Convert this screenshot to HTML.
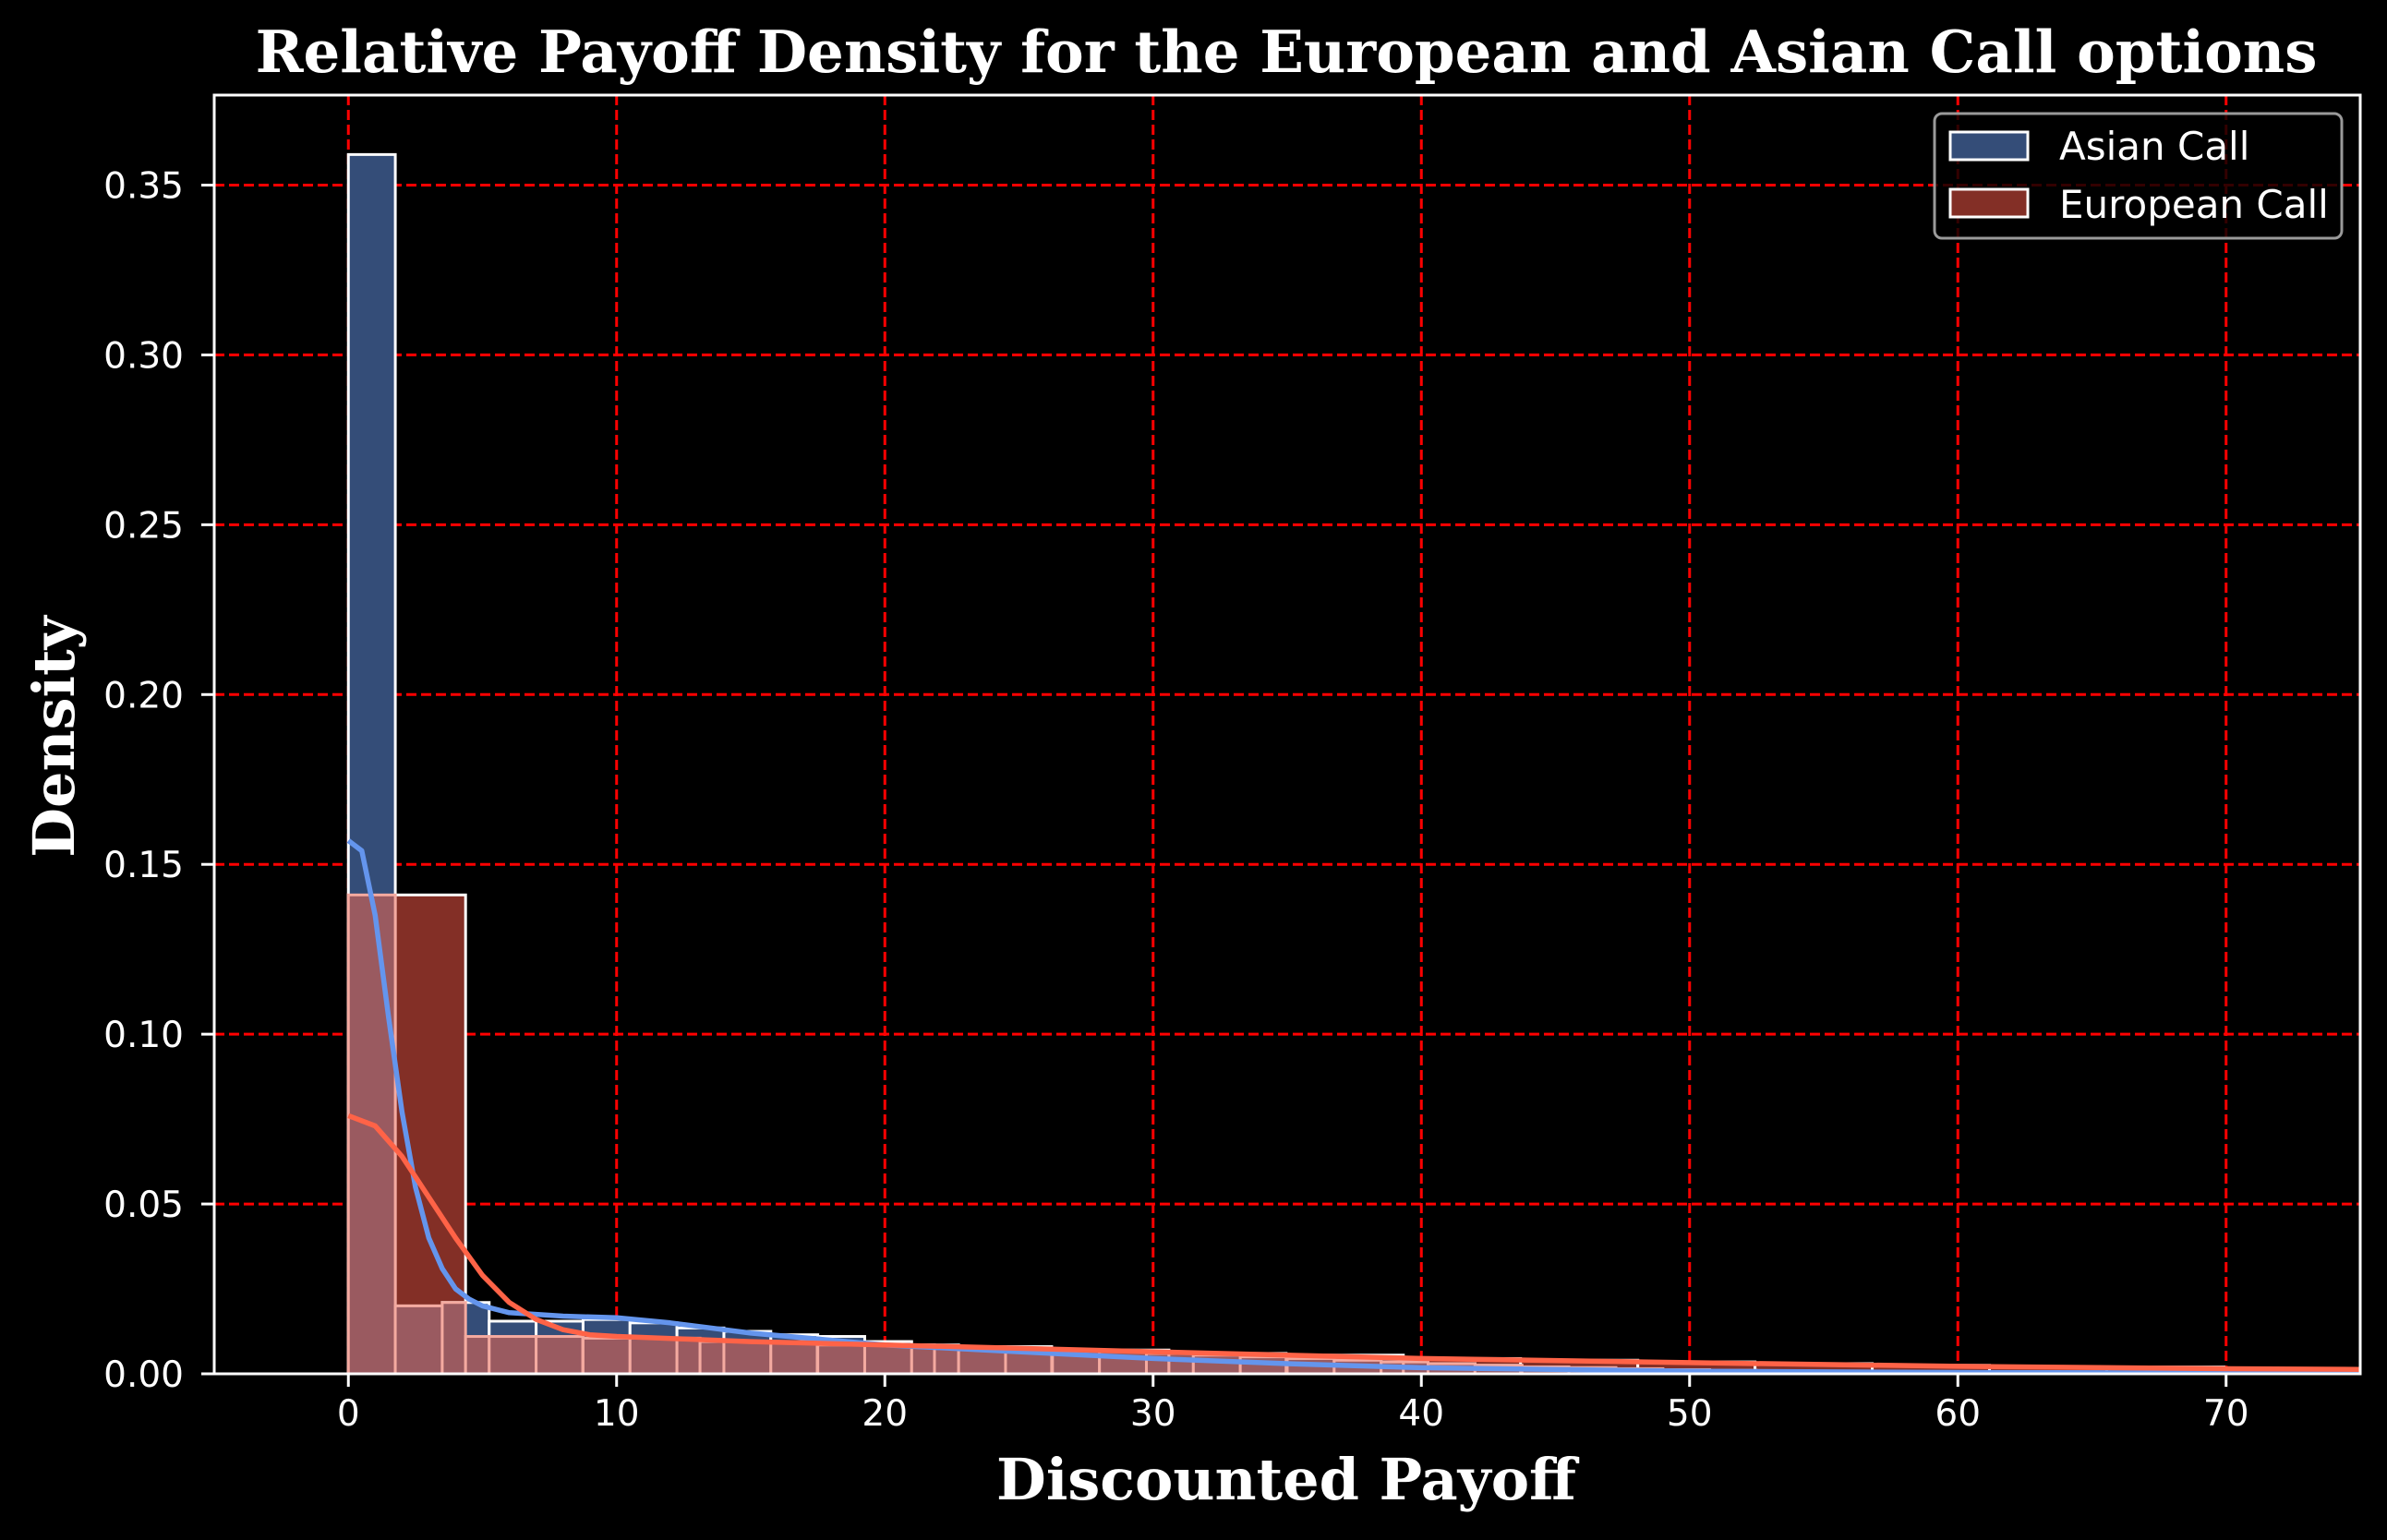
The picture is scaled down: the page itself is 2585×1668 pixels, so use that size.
<!DOCTYPE html>
<html><head><meta charset="utf-8"><style>
html,body{margin:0;padding:0;background:#000;}
svg{display:block;}
text{fill:#fff;}
</style></head><body>
<svg id="chart" width="2585" height="1668" viewBox="0 0 2585 1668" xmlns="http://www.w3.org/2000/svg">
<defs><clipPath id="plotclip"><rect x="232" y="103" width="2324" height="1385"/></clipPath></defs>
<rect width="2585" height="1668" fill="#000"/>
<text x="1393" y="78" text-anchor="middle" font-family="'DejaVu Serif','Liberation Serif',serif" font-weight="bold" font-size="62.5">Relative Payoff Density for the European and Asian Call options</text>
<text x="1393" y="1624" text-anchor="middle" font-family="'DejaVu Serif','Liberation Serif',serif" font-weight="bold" font-size="62">Discounted Payoff</text>
<text transform="translate(80,798) rotate(-90)" text-anchor="middle" font-family="'DejaVu Serif','Liberation Serif',serif" font-weight="bold" font-size="62">Density</text>
<g id="plot"></g>
</svg>
<script>
const xTicks = [0,10,20,30,40,50,60,70];
const yTicks = [0,0.05,0.10,0.15,0.20,0.25,0.30,0.35];
const yTickLabels = ["0.00","0.05","0.10","0.15","0.20","0.25","0.30","0.35"];
const asianBinWidth = 1.75;
const asianHeights = [0.359,0.020,0.021,0.0155,0.0155,0.016,0.015,0.0135,0.0125,0.0115,0.011,0.0095,0.0085,0.008,0.0075,0.007,0.0065,0.006,0.0055,0.005,0.0045,0.004,0.0035,0.003,0.0025,0.002,0.0018,0.0015,0.0012,0.001];
const euroBinWidth = 4.37;
const euroHeights = [0.141,0.011,0.0105,0.0095,0.0085,0.008,0.007,0.006,0.0055,0.0045,0.004,0.0035,0.003,0.0025,0.002,0.002,0.0015,0.0012];
const asianKdeX = [0,0.5,1,1.5,2,2.5,3,3.5,4,4.5,5,6,8,10,12,15,20,25,30,35,40,50,60,75];
const asianKdeY = [0.157,0.154,0.135,0.105,0.077,0.055,0.040,0.031,0.025,0.022,0.020,0.018,0.017,0.0165,0.015,0.012,0.0085,0.0065,0.0045,0.003,0.0018,0.0008,0.0004,0.0001];
const euroKdeX = [0,1,2,3,4,5,6,7,8,9,10,15,20,30,40,50,60,70,75];
const euroKdeY = [0.076,0.073,0.064,0.052,0.040,0.029,0.021,0.016,0.013,0.0115,0.011,0.0095,0.0085,0.0065,0.0045,0.0033,0.0022,0.0015,0.0013];

const L=232,R=2556,T=103,B=1488,XMIN=-5,XMAX=75,YMAX=0.3765;
const sx=v=>L+(v-XMIN)/(XMAX-XMIN)*(R-L);
const sy=v=>B-v/YMAX*(B-T);
const NS="http://www.w3.org/2000/svg";
const root=document.getElementById('plot');
function mk(tag,attrs,parent){const e=document.createElementNS(NS,tag);for(const k in attrs)e.setAttribute(k,attrs[k]);(parent||root).appendChild(e);return e;}

// grid
yTicks.forEach((t,i)=>{
  const ln=mk('line',{x1:L,x2:R,y1:sy(t),y2:sy(t),stroke:'#ff0000','stroke-width':3,'stroke-dasharray':'11 5'});
  
  
});
xTicks.forEach(t=>{
  const ln=mk('line',{x1:sx(t),x2:sx(t),y1:T,y2:B,stroke:'#ff0000','stroke-width':3,'stroke-dasharray':'11 5'});
  
  
});

const g=mk('g',{'clip-path':'url(#plotclip)'});



euroHeights.forEach((h,i)=>{
  const x0=i*euroBinWidth,x1=x0+euroBinWidth;
  const r=mk('rect',{x:sx(x0),y:sy(h),width:sx(x1)-sx(x0),height:B-sy(h),fill:'#832f26',stroke:'#ffffff','stroke-width':3},g);
  
  
});
asianHeights.forEach((h,i)=>{
  const x0=i*asianBinWidth,x1=x0+asianBinWidth;
  const r=mk('rect',{x:sx(x0),y:sy(h),width:sx(x1)-sx(x0),height:B-sy(h),fill:'#344d78',stroke:'#ffffff','stroke-width':3},g);
  
  
});
const edges=new Set();
asianHeights.forEach((h,i)=>{edges.add(+(i*asianBinWidth).toFixed(4));edges.add(+((i+1)*asianBinWidth).toFixed(4));});
euroHeights.forEach((h,i)=>{edges.add(+(i*euroBinWidth).toFixed(4));edges.add(+((i+1)*euroBinWidth).toFixed(4));});
const E=[...edges].sort((a,b)=>a-b);
for(let k=0;k<E.length-1;k++){
  const m=(E[k]+E[k+1])/2;
  const ai=Math.floor(m/asianBinWidth),ei=Math.floor(m/euroBinWidth);
  const ah=asianHeights[ai]||0,eh=euroHeights[ei]||0;
  const h=Math.min(ah,eh);
  if(h<=0)continue;
  const r=mk('rect',{x:sx(E[k]),y:sy(h),width:sx(E[k+1])-sx(E[k]),height:B-sy(h),fill:'#9a5a60',stroke:'#f4aaa0','stroke-width':3},g);
  
  
}

function line(xs,ys,color,name){
  const d=xs.map((x,i)=>(i?'L':'M')+sx(x).toFixed(1)+','+sy(ys[i]).toFixed(1)).join('');
  const p=mk('path',{d:d,fill:'none',stroke:color,'stroke-width':5.5,'stroke-linejoin':'round'},g);
  
  
}
line(asianKdeX,asianKdeY,'#6495ed','asian-kde-line');
line(euroKdeX,euroKdeY,'#ff6347','european-kde-line');

const sp=mk('rect',{x:L,y:T,width:R-L,height:B-T,fill:'none',stroke:'#ffffff','stroke-width':3});



xTicks.forEach(t=>{
  const tk=mk('line',{x1:sx(t),x2:sx(t),y1:B,y2:B+14,stroke:'#fff','stroke-width':3});
  
  
  const tx=mk('text',{x:sx(t),y:B+56,'text-anchor':'middle','font-family':"'DejaVu Sans','Liberation Sans',sans-serif",'font-size':39});
  tx.textContent=String(t);
  
  
});
yTicks.forEach((t,i)=>{
  const tk=mk('line',{x1:L-14,x2:L,y1:sy(t),y2:sy(t),stroke:'#fff','stroke-width':3});
  
  
  const tx=mk('text',{x:199,y:sy(t)+14,'text-anchor':'end','font-family':"'DejaVu Sans','Liberation Sans',sans-serif",'font-size':39});
  tx.textContent=yTickLabels[i];
  
  
});

const lg=mk('g',{});


const lb=mk('rect',{x:2095,y:123,width:441,height:135,rx:8,fill:'rgba(0,0,0,0.8)',stroke:'#9a9a9a','stroke-width':3},lg);


[['Asian Call','#344d78',143,173],['European Call','#832f26',205,236]].forEach(([lab,col,py,ty])=>{
  const p=mk('rect',{x:2112,y:py,width:84,height:30,fill:col,stroke:'#fff','stroke-width':3},lg);
  
  
  const t=mk('text',{x:2230,y:ty,'font-family':"'DejaVu Sans','Liberation Sans',sans-serif",'font-size':42},lg);
  t.textContent=lab;
  
  
});
</script>
</body></html>
